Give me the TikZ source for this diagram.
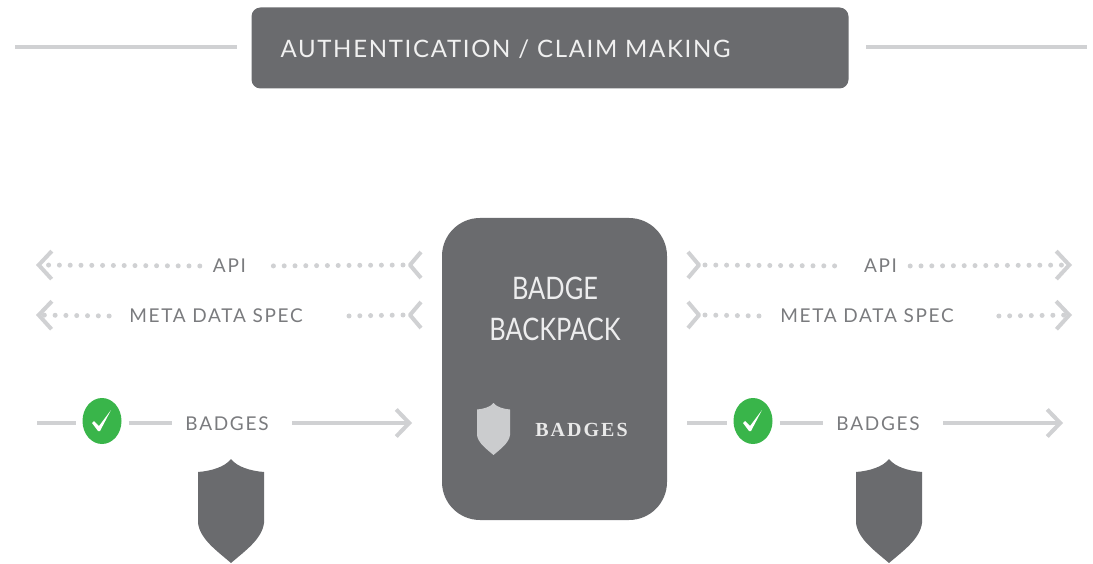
\documentclass[tikz,border=0pt]{standalone}
\usepackage{fontspec}
\usetikzlibrary{arrows.meta,shapes.geometric}
\setmainfont{Lato}
\newfontfamily\capsA[LetterSpace=7]{Lato}
\newfontfamily\capsB[LetterSpace=9]{Lato}
\newfontfamily\capsC[FakeStretch=0.82]{Lato}
\newfontfamily\capsS[LetterSpace=10]{Liberation Serif}
\definecolor{darkbox}{HTML}{6A6B6E}
\definecolor{lightline}{HTML}{D0D1D3}
\definecolor{labelgrey}{HTML}{7A7B7E}
\definecolor{paleshield}{HTML}{CBCCCE}
\definecolor{okgreen}{HTML}{39B54A}
\tikzset{
  x=1pt,y=-1pt,
  solidline/.style={draw=lightline,line width=4pt},
  dotline/.style={draw=lightline,line width=5pt,line cap=round,dash pattern=on 0pt off 10.8pt},
  chevron/.style={-{Straight Barb[length=13pt,width=28pt,line width=4pt,color=lightline]}},
  longarrow/.style={-{Straight Barb[length=13pt,width=27pt,line width=4pt,color=lightline]}},
  lab/.style={text=labelgrey,font=\capsB\fontsize{19}{19}\selectfont,inner sep=0pt,anchor=center},
  okmark/.style={ellipse,fill=okgreen,minimum width=39pt,minimum height=46pt,inner sep=0pt,outer sep=7pt},
  shieldpic/.pic={
    \fill[pic actions] (0,0) .. controls (-6,8) and (-20,12) .. (-33,13)
      -- (-33,64) .. controls (-31,80) and (-14,92) .. (0,104)
      .. controls (14,92) and (31,80) .. (33,64)
      -- (33,13) .. controls (20,12) and (6,8) .. (0,0) -- cycle;
  },
  tickpic/.pic={
    \fill[white] (-10,2) -- (-8,0) -- (-3,5) -- (9,-11) -- (-2,10) -- (-4,10) -- cycle;
  },
  chevpic/.pic={
    \draw[lightline,line width=4pt,line join=round] (11,-13) -- (0,0) -- (11,13);
  }
}
\begin{document}
\begin{tikzpicture}
\useasboundingbox (0,0) rectangle (1093,564);
% top band
\node[fill=darkbox,rounded corners=9pt,minimum width=597pt,minimum height=81pt,inner sep=0pt] (auth) at (550,48) {};
\node[text=white!90!darkbox,font=\capsA\fontsize{24}{24}\selectfont,inner sep=0pt] (authtext) at (505.5,49) {AUTHENTICATION / CLAIM MAKING};
\coordinate (tl0) at (15,47); \coordinate (tl1) at (237,47);
\coordinate (tr0) at (866,47); \coordinate (tr1) at (1087,47);
\draw[solidline] (tl0) -- (tl1);
\draw[solidline] (tr0) -- (tr1);
% centre box
\node[fill=darkbox,rounded corners=38pt,minimum width=225pt,minimum height=302pt,inner sep=0pt] (pack) at (554.5,369) {};
\node[text=white!88!darkbox,font=\capsC\fontsize{31}{31}\selectfont,inner sep=0pt] (badge) at (555,288) {BADGE};
\node[text=white!88!darkbox,font=\capsC\fontsize{31}{31}\selectfont,inner sep=0pt] (backpack) at (555,329) {BACKPACK};
\pic[fill=paleshield,scale=.5] at (493.5,403) {shieldpic};
\node[text=white!85!darkbox,font=\capsS\bfseries\fontsize{20}{20}\selectfont,inner sep=0pt] (innerbadges) at (581.5,430) {BADGES};
% left column
\node[lab] (apiL) at (229.5,266) {API};
\node[lab] (metaL) at (216,316) {META DATA SPEC};
\node[lab] (badgesL) at (227,424) {BADGES};
\coordinate (a1) at (36,265); \coordinate (a2) at (403,265);
\coordinate (m1) at (36,315); \coordinate (m2) at (403,315);
\draw[dotline,chevron] ([xshift=-13pt]apiL.west) -- (a1);
\draw[dotline] (a2) -- ([xshift=19pt]apiL.east);
\draw[dotline,chevron] ([xshift=-20pt]metaL.west) -- (m1);
\draw[dotline] (m2) -- ([xshift=45pt]metaL.east);
\pic at (410,265) {chevpic};
\pic at (410,315) {chevpic};
\node[okmark] (checkL) at (102,421) {};
\pic at (checkL.center) {tickpic};
\coordinate (b0) at (37,423); \coordinate (b1) at (412,423);
\coordinate (b2) at (172,423); \coordinate (b3) at (292,423);
\draw[solidline] (b0) -- (b0 -| checkL.west);
\draw[solidline] (b2 -| checkL.east) -- (b2);
\draw[solidline,longarrow] (b3) -- (b1);
\pic[fill=darkbox,scale=1] at (231,459) {shieldpic};
% right column
\node[lab] (apiR) at (880.5,266) {API};
\node[lab] (metaR) at (867,316) {META DATA SPEC};
\node[lab] (badgesR) at (878,424) {BADGES};
\coordinate (c1) at (705,265); \coordinate (c2) at (1072,265);
\coordinate (n1) at (705,315); \coordinate (n2) at (1072,315);
\draw[dotline] (c1) -- ([xshift=-19pt]apiR.west);
\draw[dotline,chevron] ([xshift=13pt]apiR.east) -- (c2);
\draw[dotline] (n1) -- ([xshift=-20pt]metaR.west);
\draw[dotline,chevron] ([xshift=45pt]metaR.east) -- (n2);
\pic[xscale=-1] at (699,265) {chevpic};
\pic[xscale=-1] at (699,315) {chevpic};
\node[okmark] (checkR) at (753,421) {};
\pic at (checkR.center) {tickpic};
\coordinate (d0) at (687,423); \coordinate (d1) at (1063,423);
\coordinate (d2) at (823,423); \coordinate (d3) at (943,423);
\draw[solidline] (d0) -- (d0 -| checkR.west);
\draw[solidline] (d2 -| checkR.east) -- (d2);
\draw[solidline,longarrow] (d3) -- (d1);
\pic[fill=darkbox,scale=1] at (889,459) {shieldpic};
\end{tikzpicture}
\end{document}
